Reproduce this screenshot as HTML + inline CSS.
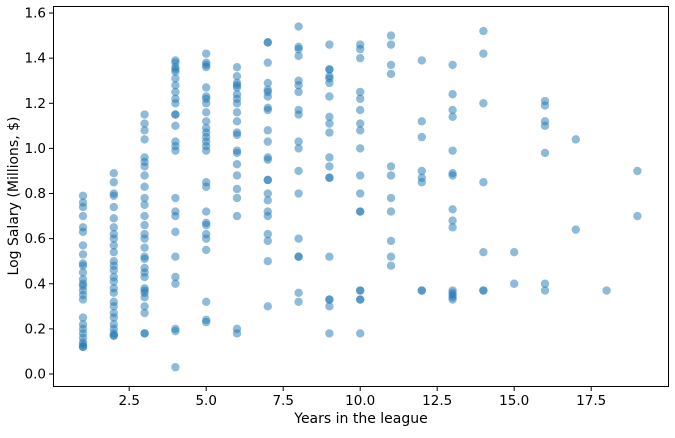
<!DOCTYPE html>
<html><head><meta charset="utf-8"><style>
body{margin:0;background:#fff;font-family:"Liberation Sans",sans-serif}
svg text{font-family:"DejaVu Sans","Liberation Sans",sans-serif;font-size:13.5px;fill:#000}
svg text.title{font-size:14px}
</style></head><body>
<svg id="chart" width="675" height="433" viewBox="0 0 675 433" xmlns="http://www.w3.org/2000/svg">
<g id="marks"></g>
<rect x="53.5" y="6.5" width="615" height="380" fill="none" stroke="#000" stroke-width="1"/>
<g id="axes"></g>
<text class="title" x="361" y="423" text-anchor="middle">Years in the league</text>
<text class="title" transform="translate(18,196) rotate(-90)" text-anchor="middle">Log Salary (Millions, $)</text>
</svg>
<script>
const years=[1,2,3,4,5,6,7,8,9,10,11,12,13,14,15,16,17,18,19];
const salaries=[
[0.79,0.76,0.74,0.70,0.65,0.63,0.57,0.53,0.49,0.48,0.45,0.42,0.40,0.39,0.37,0.35,0.33,0.25,0.22,0.20,0.18,0.16,0.14,0.13,0.12,0.12],
[0.89,0.85,0.80,0.79,0.74,0.69,0.65,0.62,0.60,0.57,0.54,0.50,0.48,0.46,0.43,0.41,0.38,0.36,0.32,0.30,0.27,0.25,0.22,0.20,0.18,0.17,0.17],
[1.15,1.11,1.08,1.04,0.96,0.94,0.92,0.88,0.83,0.78,0.75,0.70,0.66,0.62,0.60,0.56,0.52,0.51,0.47,0.45,0.43,0.38,0.37,0.36,0.34,0.30,0.27,0.18,0.18],
[1.39,1.38,1.36,1.35,1.34,1.31,1.28,1.25,1.22,1.20,1.15,1.15,1.10,1.03,1.01,0.99,0.78,0.72,0.70,0.63,0.52,0.43,0.40,0.20,0.19,0.03],
[1.42,1.38,1.37,1.36,1.27,1.23,1.22,1.20,1.16,1.12,1.09,1.07,1.05,1.03,1.01,0.99,0.85,0.83,0.72,0.67,0.66,0.62,0.60,0.55,0.32,0.24,0.23],
[1.36,1.32,1.29,1.28,1.27,1.24,1.22,1.20,1.16,1.12,1.07,1.06,0.99,0.98,0.93,0.88,0.82,0.78,0.70,0.20,0.18],
[1.47,1.47,1.38,1.29,1.26,1.25,1.23,1.18,1.17,1.08,1.03,0.96,0.95,0.86,0.86,0.80,0.77,0.72,0.70,0.62,0.59,0.50,0.30],
[1.54,1.45,1.44,1.41,1.30,1.28,1.25,1.17,1.15,1.03,1.00,0.90,0.80,0.60,0.52,0.52,0.36,0.32],
[1.46,1.35,1.35,1.32,1.31,1.29,1.23,1.14,1.11,1.07,0.96,0.92,0.87,0.87,0.52,0.33,0.33,0.30,0.18],
[1.46,1.44,1.40,1.25,1.22,1.17,1.11,1.08,1.00,0.88,0.80,0.72,0.72,0.37,0.37,0.33,0.33,0.18],
[1.50,1.46,1.37,1.33,0.92,0.88,0.78,0.72,0.59,0.52,0.48],
[1.39,1.12,1.05,0.90,0.87,0.85,0.37,0.37],
[1.37,1.24,1.17,1.14,0.99,0.89,0.88,0.73,0.68,0.65,0.37,0.36,0.35,0.34,0.33],
[1.52,1.42,1.20,0.85,0.54,0.37,0.37],
[0.54,0.40],
[1.21,1.19,1.12,1.10,0.98,0.40,0.37],
[1.04,0.64],
[0.37],
[0.90,0.70]
];
const xTicks=[2.5,5.0,7.5,10.0,12.5,15.0,17.5];
const yTicks=[0.0,0.2,0.4,0.6,0.8,1.0,1.2,1.4,1.6];
const NS="http://www.w3.org/2000/svg";
const xs=v=>83+(v-1)*30.8;
const ys=v=>374-v*225.6;
const marks=document.getElementById('marks');
years.forEach((yr,i)=>{salaries[i].forEach(s=>{
 const c=document.createElementNS(NS,'circle');
 
 
 c.setAttribute('cx',xs(yr));c.setAttribute('cy',ys(s));c.setAttribute('r',4.2);
 c.setAttribute('fill','#1f77b4');c.setAttribute('fill-opacity','0.5');
 marks.appendChild(c);});});
const axes=document.getElementById('axes');
xTicks.forEach(t=>{
 const l=document.createElementNS(NS,'line');
 
 
 l.setAttribute('x1',xs(t));l.setAttribute('x2',xs(t));l.setAttribute('y1',387);l.setAttribute('y2',391);l.setAttribute('stroke','#000');
 axes.appendChild(l);
 const tx=document.createElementNS(NS,'text');
 
 
 tx.setAttribute('x',xs(t));tx.setAttribute('y',405);tx.setAttribute('text-anchor','middle');
 tx.textContent=t.toFixed(1);axes.appendChild(tx);});
yTicks.forEach(t=>{
 const l=document.createElementNS(NS,'line');
 
 
 l.setAttribute('x1',49);l.setAttribute('x2',53);l.setAttribute('y1',ys(t));l.setAttribute('y2',ys(t));l.setAttribute('stroke','#000');
 axes.appendChild(l);
 const tx=document.createElementNS(NS,'text');
 
 
 tx.setAttribute('x',46);tx.setAttribute('y',ys(t)+4.5);tx.setAttribute('text-anchor','end');
 tx.textContent=t.toFixed(1);axes.appendChild(tx);});
</script>
</body></html>
